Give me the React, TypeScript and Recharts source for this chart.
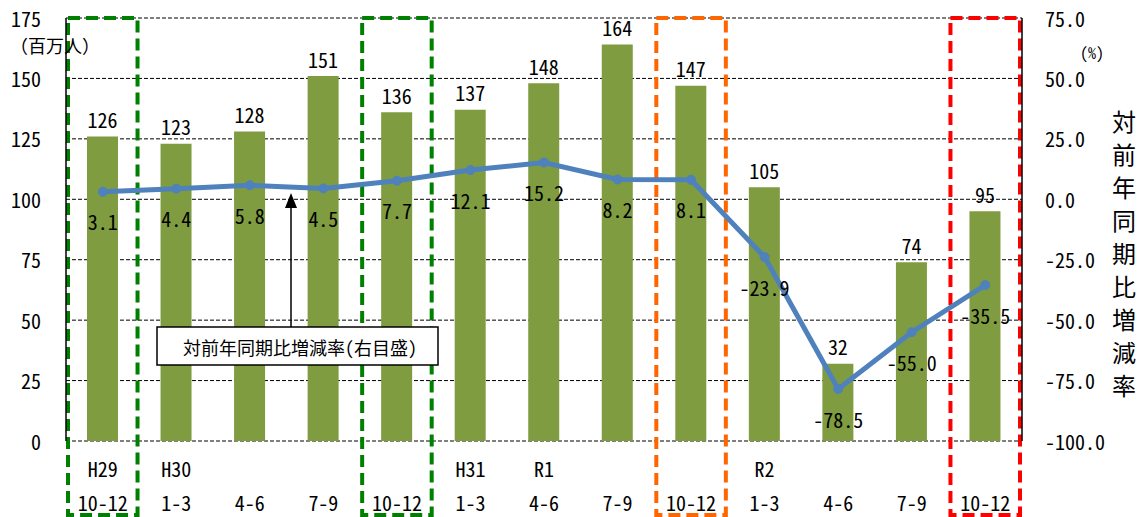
import React from 'react';
import {
  ComposedChart,
  Bar,
  Line,
  XAxis,
  YAxis,
  CartesianGrid,
  LabelList,
  ReferenceArea,
} from 'recharts';

// Quarterly passengers (million people) and year-on-year change (%)
const categories = [
  'H29 10-12', 'H30 1-3', 'H30 4-6', 'H30 7-9', 'H30 10-12',
  'H31 1-3', 'R1 4-6', 'R1 7-9', 'R1 10-12',
  'R2 1-3', 'R2 4-6', 'R2 7-9', 'R2 10-12',
];
const passengers = [126, 123, 128, 151, 136, 137, 148, 164, 147, 105, 32, 74, 95];
const yoyChange = [3.1, 4.4, 5.8, 4.5, 7.7, 12.1, 15.2, 8.2, 8.1, -23.9, -78.5, -55.0, -35.5];

// Two-line category labels
const eraLabels = ['H29', 'H30', '', '', '', 'H31', 'R1', '', '', 'R2', '', '', ''];
const quarterLabels = ['10-12', '1-3', '4-6', '7-9', '10-12', '1-3', '4-6', '7-9', '10-12', '1-3', '4-6', '7-9', '10-12'];

const leftTicks = [0, 25, 50, 75, 100, 125, 150, 175];
const rightTicks = [-100, -75, -50, -25, 0, 25, 50, 75];

// Framed October–December quarters
const framedPeriods = ['H29 10-12', 'H30 10-12', 'R1 10-12', 'R2 10-12'];
const frameColors = ['#008000', '#008000', '#FF6600', '#FF0000'];

const data = categories.map((category, i) => ({
  category,
  passengers: passengers[i],
  yoy: yoyChange[i],
}));

const FONT = "'Noto Sans Mono CJK JP', 'Noto Sans CJK JP', sans-serif";
const BAR_COLOR = '#7F9C41';
const LINE_COLOR = '#4F81BD';

const XTick = (props: any) => {
  const { x, index } = props;
  return (
    <g>
      <text x={x} y={468} textAnchor="middle" dominantBaseline="central" fontSize={20} fontFamily={FONT} fill="#000">
        {eraLabels[index]}
      </text>
      <text x={x} y={502} textAnchor="middle" dominantBaseline="central" fontSize={20} fontFamily={FONT} fill="#000">
        {quarterLabels[index]}
      </text>
    </g>
  );
};

const LeftTick = (props: any) => {
  const { y, payload } = props;
  return (
    <text x={41} y={y} textAnchor="end" dominantBaseline="central" fontSize={20} fontFamily={FONT} fill="#000">
      {payload.value}
    </text>
  );
};

const RightTick = (props: any) => {
  const { y, payload } = props;
  return (
    <text x={1045} y={y} textAnchor="start" dominantBaseline="central" fontSize={20} fontFamily={FONT} fill="#000">
      {Number(payload.value).toFixed(1)}
    </text>
  );
};

const YoyLabel = (props: any) => {
  const { x, y, value } = props;
  return (
    <text x={x} y={y + 30} textAnchor="middle" dominantBaseline="central" fontSize={20} fontFamily={FONT} fill="#000">
      {Number(value).toFixed(1)}
    </text>
  );
};

const BarValueLabel = (props: any) => {
  const { x, y, width, value } = props;
  return (
    <text x={x + width / 2} y={y - 17} textAnchor="middle" dominantBaseline="central" fontSize={20} fontFamily={FONT} fill="#000">
      {value}
    </text>
  );
};

const makeFrame = (color: string) => (props: any) => {
  const { x, y, width, height } = props;
  return (
    <rect
      x={x + 2}
      y={y}
      width={width - 4}
      height={height + 74}
      fill="none"
      stroke={color}
      strokeWidth={4}
      strokeDasharray="12 6"
    />
  );
};

const verticalTitle = '対前年同期比増減率'.split('');

export default function App() {
  return (
    <div style={{ position: 'absolute', left: 0, top: 0, width: 1145, height: 517, background: '#fff' }}>
      <ComposedChart width={1145} height={517} data={data} margin={{ top: 18, right: 0, bottom: 0, left: 0 }}>
        <CartesianGrid yAxisId="left" vertical={false} stroke="#000" strokeDasharray="4 2" strokeWidth={1} />
        <XAxis dataKey="category" height={76} interval={0} tickLine={false} axisLine={false} tick={<XTick />} />
        <YAxis
          yAxisId="left"
          domain={[0, 175]}
          ticks={leftTicks}
          width={66}
          tickLine={false}
          axisLine={{ stroke: '#000', strokeWidth: 1.5 }}
          tick={<LeftTick />}
          interval={0}
        />
        <YAxis
          yAxisId="right"
          orientation="right"
          domain={[-100, 75]}
          ticks={rightTicks}
          width={123}
          tickLine={false}
          axisLine={{ stroke: '#000', strokeWidth: 1.5 }}
          tick={<RightTick />}
          interval={0}
        />
        <Bar yAxisId="left" dataKey="passengers" fill={BAR_COLOR} barSize={31} isAnimationActive={false}>
          <LabelList dataKey="passengers" content={<BarValueLabel />} />
        </Bar>
        <Line
          yAxisId="right"
          dataKey="yoy"
          stroke={LINE_COLOR}
          strokeWidth={5}
          dot={{ r: 4.5, fill: LINE_COLOR, stroke: LINE_COLOR, strokeWidth: 1 }}
          isAnimationActive={false}
        >
          <LabelList dataKey="yoy" content={<YoyLabel />} />
        </Line>
        {framedPeriods.map((p, i) => (
          <ReferenceArea
            key={p}
            yAxisId="left"
            x1={p}
            x2={p}
            ifOverflow="visible"
            shape={makeFrame(frameColors[i])}
          />
        ))}
      </ComposedChart>

      <svg
        width={1145}
        height={517}
        style={{ position: 'absolute', left: 0, top: 0, pointerEvents: 'none' }}
      >
        {/* unit captions */}
        <text x={10} y={45} fontSize={18} fontFamily={FONT} dominantBaseline="central" fill="#000">
          （百万人）
        </text>
        <text x={1080} y={52} fontSize={16} fontFamily={FONT} dominantBaseline="central" fill="#000">
          (%)
        </text>
        {/* right-axis title, written vertically */}
        {verticalTitle.map((ch, i) => (
          <text
            key={i}
            x={1124}
            y={120 + i * 33.1}
            fontSize={24}
            fontFamily={FONT}
            textAnchor="middle"
            dominantBaseline="central"
            fill="#000"
          >
            {ch}
          </text>
        ))}
        {/* callout pointing at the line series */}
        <line x1={291} y1={327} x2={291} y2={205} stroke="#000" strokeWidth={1.5} />
        <polygon points="291,193 285,208 297,208" fill="#000" />
        <rect x={157} y={327} width={281} height={38} fill="#fff" stroke="#000" strokeWidth={1.5} />
        <text x={300} y={347} fontSize={18} fontFamily={FONT} textAnchor="middle" dominantBaseline="central" fill="#000">
          対前年同期比増減率(右目盛)
        </text>
      </svg>
    </div>
  );
}
